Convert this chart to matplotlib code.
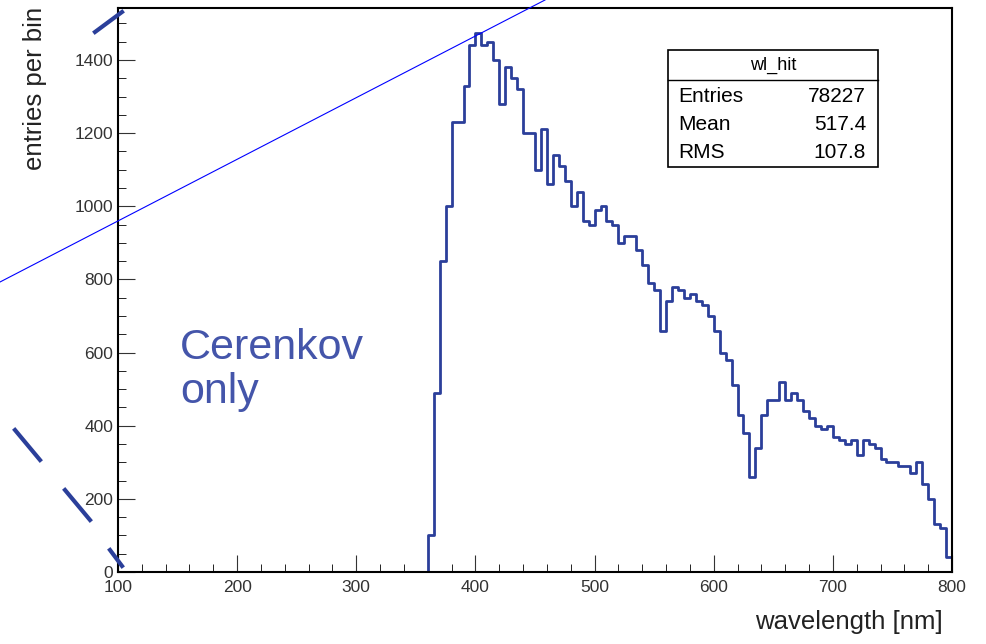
import matplotlib
matplotlib.use("Agg")
import matplotlib.pyplot as plt
import numpy as np
from matplotlib.lines import Line2D

plt.rcParams['font.family'] = ['Liberation Sans', 'DejaVu Sans']

# histogram contents, 5 nm bins starting at 360 nm
bin_start = 360
bin_width = 5
counts = [100, 490, 850, 1000, 1230, 1230, 1330, 1440, 1475, 1440,
          1450, 1400, 1280, 1380, 1350, 1320, 1200, 1200, 1100, 1210,
          1060, 1140, 1110, 1070, 1000, 1040, 960, 950, 990, 1000,
          960, 950, 900, 920, 920, 880, 840, 790, 770, 660,
          740, 780, 770, 750, 760, 740, 730, 700, 660, 600,
          580, 510, 430, 380, 260, 340, 430, 470, 470, 520,
          470, 490, 470, 440, 420, 400, 390, 400, 370, 360,
          350, 360, 320, 360, 350, 340, 310, 300, 300, 290,
          290, 270, 300, 240, 200, 130, 120, 40]
stats_rows = [("Entries", "78227"), ("Mean", "517.4"), ("RMS", "107.8")]

col = '#2b3f9a'
fig = plt.figure(figsize=(9.87, 6.44), dpi=100)
ax = fig.add_axes([118/987, 72/644, 834/987, 564/644])

edges = bin_start + bin_width*np.arange(len(counts)+1)
x = np.concatenate([[100], edges, [800]])
y = np.concatenate([[0], counts, [0, 0]])
ax.step(x, y, where='post', color=col, lw=2)

ax.set_xlim(100, 800)
ax.set_ylim(0, 1542)
ax.set_xticks(np.arange(100, 801, 100))
ax.set_yticks(np.arange(0, 1401, 200))
ax.set_xticks(np.arange(100, 801, 20), minor=True)
ax.set_yticks(np.arange(0, 1541, 50), minor=True)
ax.tick_params(direction='in', length=12, labelsize=12.5, colors='#333333', top=False, right=False)
ax.tick_params(axis='x', pad=6)
ax.tick_params(which='minor', direction='in', length=6)
for s in ax.spines.values():
    s.set_linewidth(1.5)

fig.text(0.955, 0.015, "wavelength [nm]", fontsize=18.5, ha='right', va='bottom', color='#222222')
fig.text(0.035, 0.99, "entries per bin", fontsize=18.5, rotation=90, ha='center', va='top', color='#222222')
fig.text(180/987, 1-370/644, "Cerenkov\nonly", fontsize=31, color='#4455aa', ha='left', va='center', linespacing=1.1)

# stats box
bx0, bx1, by0, by1 = 668/987, 878/987, 1-167/644, 1-50/644
fig.patches.append(plt.Rectangle((bx0, by0), bx1-bx0, by1-by0, transform=fig.transFigure,
                                 fill=True, fc='white', ec='black', lw=1.2))
fig.add_artist(Line2D([bx0, bx1], [1-80/644, 1-80/644], color='black', lw=1))
fig.text((bx0+bx1)/2, 1-65/644, "wl_hit", fontsize=13, ha='center', va='center')
for i, (k, v) in enumerate(stats_rows):
    yy = 1-(96+28*i)/644
    fig.text(678/987, yy, k, fontsize=15, va='center')
    fig.text(866/987, yy, v, fontsize=15, va='center', ha='right')

# annotation strokes
fig.add_artist(Line2D([0, 545/987], [1-282/644, 1], color='blue', lw=0.8))
for (x0, y0, x1, y1) in [(95, 32, 122, 12), (15, 430, 40, 460), (65, 490, 90, 520), (110, 550, 122, 566)]:
    fig.add_artist(Line2D([x0/987, x1/987], [1-y0/644, 1-y1/644], color=col, lw=3))

fig.savefig("out.png", dpi=100)
